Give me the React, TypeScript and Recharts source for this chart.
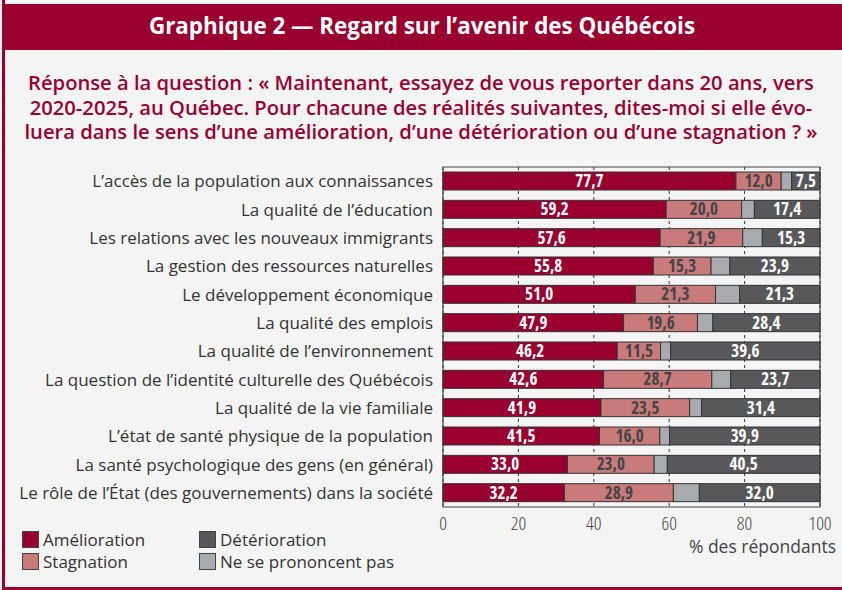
import React from 'react';
import { BarChart, Bar, XAxis, YAxis, CartesianGrid, LabelList, ReferenceArea } from 'recharts';

const categories = [
  "L\u2019accès de la population aux connaissances",
  "La qualité de l\u2019éducation",
  "Les relations avec les nouveaux immigrants",
  "La gestion des ressources naturelles",
  "Le développement économique",
  "La qualité des emplois",
  "La qualité de l\u2019environnement",
  "La question de l\u2019identité culturelle des Québécois",
  "La qualité de la vie familiale",
  "L\u2019état de santé physique de la population",
  "La santé psychologique des gens (en général)",
  "Le rôle de l\u2019État (des gouvernements) dans la société",
];
const amelioration = [77.7, 59.2, 57.6, 55.8, 51.0, 47.9, 46.2, 42.6, 41.9, 41.5, 33.0, 32.2];
const stagnation = [12.0, 20.0, 21.9, 15.3, 21.3, 19.6, 11.5, 28.7, 23.5, 16.0, 23.0, 28.9];
const nsp = [2.8, 3.4, 5.2, 5.0, 6.4, 4.1, 2.7, 5.0, 3.2, 2.6, 3.5, 6.9];
const deterioration = [7.5, 17.4, 15.3, 23.9, 21.3, 28.4, 39.6, 23.7, 31.4, 39.9, 40.5, 32.0];
const xTicks = [0, 20, 40, 60, 80, 100];
const subtitleLines = [
  "Réponse à la question : « Maintenant, essayez de vous reporter dans 20 ans, vers",
  "2020-2025, au Québec. Pour chacune des réalités suivantes, dites-moi si elle évo-",
  "luera dans le sens d\u2019une amélioration, d\u2019une détérioration ou d\u2019une stagnation ? »",
];

const data = categories.map((name, i) => ({
  name,
  amelioration: amelioration[i],
  stagnation: stagnation[i],
  nsp: nsp[i],
  deterioration: deterioration[i],
}));

const FONT = "'Open Sans', 'Noto Sans', sans-serif";
const RED = '#990030';
const PINK = '#c97b7b';
const LIGHT = '#a9aaad';
const DARK = '#58585a';

const fmt = (v: any) => Number(v).toFixed(1).replace('.', ',');
const labelStyle = { fontSize: 17, fontWeight: 700, fontFamily: FONT, fontStretch: '80%' } as React.CSSProperties;

const YTick = (props: any) => {
  const { x, y, payload } = props;
  return (
    <text x={x} y={y} dy="0.36em" textAnchor="end" fill="#333" style={{ fontFamily: FONT, fontSize: 17, fontStretch: '100%' }}>
      {payload.value}
    </text>
  );
};

const LegendItem = ({ color, label }: { color: string; label: string }) => (
  <div style={{ display: 'flex', alignItems: 'center', height: 22 }}>
    <div style={{ width: 17, height: 17, background: color, border: '1px solid #444', boxSizing: 'border-box', marginRight: 4 }} />
    <span style={{ fontSize: 17, color: '#333' }}>{label}</span>
  </div>
);

export default function App() {
  return (
    <div style={{ position: 'fixed', left: 0, top: 0, width: 842, height: 590, background: '#f4f4f4', fontFamily: FONT, overflow: 'hidden' }}>
      <div style={{ position: 'absolute', left: 2, top: 0, width: 3, height: 590, background: RED }} />
      <div style={{ position: 'absolute', left: 2, top: 587, width: 840, height: 3, background: RED }} />
      <div style={{ position: 'absolute', left: 2, top: 4, width: 840, height: 46, boxSizing: 'border-box', paddingBottom: 4, background: RED, color: '#fff', fontWeight: 700, fontSize: 22.4, fontStretch: '100%', display: 'flex', alignItems: 'center', justifyContent: 'center', whiteSpace: 'nowrap' }}>
        Graphique 2 — Regard sur l’avenir des Québécois
      </div>
      <div style={{ position: 'absolute', left: 0, top: 70, width: 842, color: RED, fontWeight: 600, fontSize: 20.2, lineHeight: '24.5px' }}>
        {subtitleLines.map((l, i) => (
          <div key={i} style={{ textAlign: 'center', whiteSpace: 'nowrap' }}>{l}</div>
        ))}
      </div>
      <div style={{ position: 'absolute', left: 0, top: 0 }}>
        <BarChart
          width={842}
          height={590}
          data={data}
          layout="vertical"
          margin={{ top: 167, right: 22, bottom: 0, left: 0 }}
          barSize={18}
        >
          <CartesianGrid horizontal={false} vertical stroke="#333" strokeDasharray="3 3" />
          <XAxis
            type="number"
            domain={[0, 100]}
            ticks={xTicks}
            height={83}
            axisLine={false}
            tickLine={false}
            tick={{ fill: '#444', fontSize: 19, fontFamily: FONT, fontWeight: 300, fontStretch: '75%' } as any}
            tickMargin={4}
            interval={0}
          />
          <YAxis
            type="category"
            dataKey="name"
            width={443}
            axisLine={false}
            tickLine={false}
            tick={<YTick />}
            tickMargin={4}
            interval={0}
          />
          <Bar dataKey="amelioration" stackId="a" fill={RED} stroke="#333" strokeWidth={1} isAnimationActive={false}>
            <LabelList dataKey="amelioration" position="center" formatter={fmt} fill="#fff" style={labelStyle} />
          </Bar>
          <Bar dataKey="stagnation" stackId="a" fill={PINK} stroke="#333" strokeWidth={1} isAnimationActive={false}>
            <LabelList dataKey="stagnation" position="center" formatter={fmt} fill="#444" style={labelStyle} />
          </Bar>
          <Bar dataKey="nsp" stackId="a" fill={LIGHT} stroke="#333" strokeWidth={1} isAnimationActive={false} />
          <Bar dataKey="deterioration" stackId="a" fill={DARK} stroke="#333" strokeWidth={1} isAnimationActive={false}>
            <LabelList dataKey="deterioration" position="center" formatter={fmt} fill="#fff" style={labelStyle} />
          </Bar>
          <ReferenceArea x1={0} x2={100} fill="none" stroke="#444" strokeWidth={1.2} ifOverflow="visible" />
        </BarChart>
      </div>
      <div style={{ position: 'absolute', right: 6, top: 534, fontSize: 17.5, color: '#444' }}>% des répondants</div>
      <div style={{ position: 'absolute', left: 22, top: 528 }}>
        <LegendItem color={RED} label="Amélioration" />
        <LegendItem color={PINK} label="Stagnation" />
      </div>
      <div style={{ position: 'absolute', left: 199, top: 528 }}>
        <LegendItem color={DARK} label="Détérioration" />
        <LegendItem color={LIGHT} label="Ne se prononcent pas" />
      </div>
    </div>
  );
}
